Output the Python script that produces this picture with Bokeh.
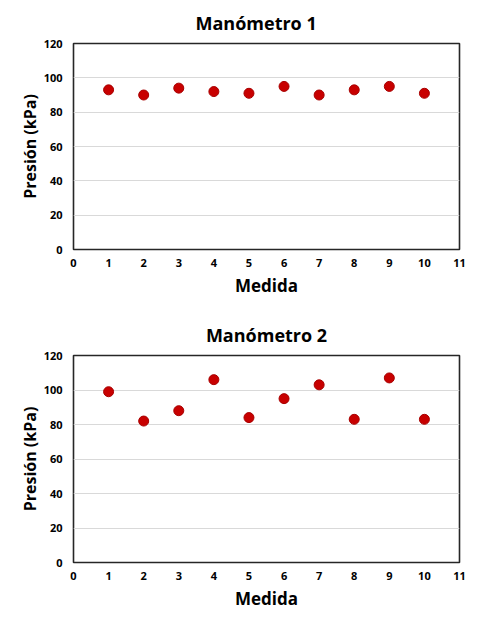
from bokeh.plotting import figure
from bokeh.layouts import column
from bokeh.models import FixedTicker, ColumnDataSource
from bokeh.embed import file_html
from bokeh.resources import INLINE

medida = [1, 2, 3, 4, 5, 6, 7, 8, 9, 10]
manometro1 = [93, 90, 94, 92, 91, 95, 90, 93, 95, 91]
manometro2 = [99, 82, 88, 106, 84, 95, 103, 83, 107, 83]
x_ticks = list(range(0, 12))
y_ticks = [0, 20, 40, 60, 80, 100, 120]

FONT = "Open Sans"


def make_fig(title, values, height, bottom, title_offset=None):
    p = figure(width=468, height=height, x_range=(0, 11), y_range=(0, 120),
               output_backend="svg", toolbar_location=None, title=title,
               min_border_left=73, min_border_right=9, min_border_top=42,
               min_border_bottom=bottom)
    if title_offset is None:
        p.title.align = "center"
    else:
        p.title.align = "left"
        p.title.offset = title_offset
    p.title.text_font = FONT
    p.title.text_font_size = "18px"
    p.title.text_font_style = "bold"
    p.title.text_color = "black"
    p.title.standoff = 17

    p.outline_line_color = "#262626"
    p.outline_line_width = 1.6
    p.background_fill_color = "white"
    p.border_fill_color = "white"

    p.xgrid.grid_line_color = None
    p.ygrid.grid_line_color = "#d9d9d9"
    p.ygrid.grid_line_width = 1

    p.xaxis.ticker = FixedTicker(ticks=x_ticks)
    p.yaxis.ticker = FixedTicker(ticks=y_ticks)
    for ax in (p.xaxis, p.yaxis):
        ax.axis_line_color = None
        ax.major_tick_line_color = None
        ax.minor_tick_line_color = None
        ax.major_tick_out = 0
        ax.major_tick_in = 0
        ax.minor_tick_out = 0
        ax.major_label_text_font = FONT
        ax.major_label_text_font_size = "11px"
        ax.major_label_text_font_style = "bold"
        ax.major_label_text_color = "black"
        ax.axis_label_text_font = FONT
        ax.axis_label_text_font_style = "bold"
        ax.axis_label_text_color = "black"
    p.xaxis.axis_label = "Medida"
    p.yaxis.axis_label = "Presión (kPa)"
    p.xaxis.axis_label_text_font_size = "17px"
    p.yaxis.axis_label_text_font_size = "16px"
    p.xaxis.major_label_standoff = 9
    p.yaxis.major_label_standoff = 11
    p.xaxis.axis_label_standoff = 4
    p.yaxis.axis_label_standoff = 0

    src = ColumnDataSource(dict(x=medida, y=values))
    p.scatter("x", "y", source=src, size=10, fill_color="#C80000",
              line_color="#A80000", line_width=1)
    return p


p1 = make_fig("Manómetro 1", manometro1, 312, 63, title_offset=122)
p2 = make_fig("Manómetro 2", manometro2, 300, 48)
layout = column(p1, p2, spacing=0)

open("out.html", "w").write(file_html(layout, INLINE))
